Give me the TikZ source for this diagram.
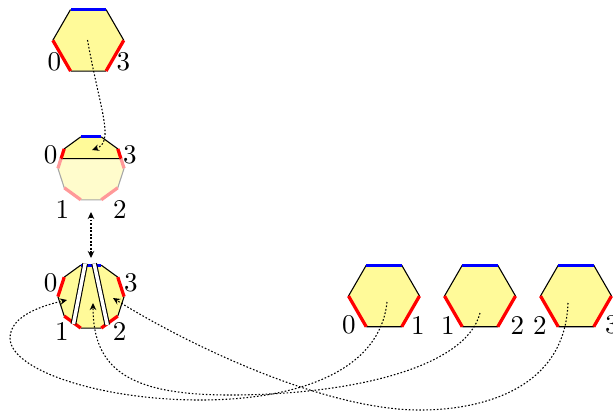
\documentclass[tikz,border=0pt]{standalone}
\usetikzlibrary{calc,arrows.meta}
\newcommand\hexcell[2]{%
  \begin{scope}[shift={(#1,#2)}]
    \fill[cellfill] (0:35.5)--(60:35.5)--(120:35.5)--(180:35.5)--(240:35.5)--(300:35.5)--cycle;
    \draw[edgeblk] (0:35.5)--(60:35.5) (120:35.5)--(180:35.5) (240:35.5)--(300:35.5);
    \draw[edgeblue] (60:35.5)--(120:35.5);
    \draw[edgered] (180:35.5)--(240:35.5) (300:35.5)--(0:35.5);
  \end{scope}}
\begin{document}
\begin{tikzpicture}[x=0.37pt,y=0.37pt,
  edgeblk/.style={line width=0.4pt,black},
  edgered/.style={line width=1.2pt,red},
  edgeblue/.style={line width=1.2pt,blue},
  fadered/.style={line width=1.2pt,red!40},
  fadeblk/.style={line width=0.4pt,black!35},
  cellfill/.style={fill=yellow!40},
  fadefill/.style={fill=yellow!20},
  lab/.style={inner sep=0pt},
  tipa/.tip={Stealth[length=2.6pt,width=2.4pt]},
  dotline/.style={dash pattern=on 0.6pt off 0.7pt,line width=0.4pt},
  dotarrow/.style={dotline,-tipa},
  chord/.style={draw=black,line width=0.4pt,double=white,double distance=1.3pt}]
\useasboundingbox (0,0) rectangle (613,-413);

% top hexagon and the three small hexagons
\hexcell{88.3}{-40.3}
\hexcell{384}{-296}
\hexcell{480}{-296}
\hexcell{576}{-296}

% middle decagon
\begin{scope}[shift={(91,-168.3)}]
  \foreach \k in {0,...,9} \coordinate (m\k) at ({72+36*\k}:33.1);
\end{scope}
\coordinate (mL) at ($(m2)!0.5!(m3)$);
\coordinate (mR) at ($(m8)!0.5!(m9)$);
\fill[fadefill] (mR)--(m8)--(m7)--(m6)--(m5)--(m4)--(m3)--(mL)--cycle;
\draw[fadeblk] (m8)--(m7) (m6)--(m5) (m4)--(m3);
\draw[fadered] (mR)--(m8) (m7)--(m6) (m5)--(m4) (m3)--(mL);
\fill[cellfill] (mL)--(m2)--(m1)--(m0)--(m9)--(mR)--cycle;
\draw[edgeblk] (m2)--(m1) (m0)--(m9) (mL)--(mR);
\draw[edgeblue] (m1)--(m0);
\draw[edgered] (mL)--(m2) (m9)--(mR);

% bottom decagon
\begin{scope}[shift={(91,-296.6)}]
  \foreach \k in {0,...,9} \coordinate (b\k) at ({72+36*\k}:33.1);
\end{scope}
\fill[cellfill] (b0)--(b1)--(b2)--(b3)--(b4)--(b5)--(b6)--(b7)--(b8)--(b9)--cycle;
\draw[edgeblk] (b1)--(b2) (b3)--(b4) (b5)--(b6) (b7)--(b8) (b9)--(b0);
\draw[edgeblue] (b1)--(b0);
\draw[edgered] (b2)--(b3) (b4)--(b5) (b6)--(b7) (b8)--(b9);
\coordinate (p1) at ($(b1)!0.2!(b0)$);
\coordinate (q1) at ($(b4)!0.57!(b5)$);
\coordinate (p2) at ($(b1)!0.67!(b0)$);
\coordinate (q2) at ($(b6)!0.35!(b7)$);
\draw[chord,shorten <=-0.6pt,shorten >=-0.4pt] (p1) -- (q1);
\draw[chord,shorten <=-0.6pt,shorten >=-0.4pt] (p2) -- (q2);

% labels
\node[lab] (t0) at (54.5,-62) {0};
\node[lab] (t3) at (123.5,-62) {3};
\node[lab] (m0l) at (50.7,-155) {0};
\node[lab] (m3l) at (130,-155) {3};
\node[lab] (m1l) at (62.5,-209.5) {1};
\node[lab] (m2l) at (120,-209.5) {2};
\node[lab] (b0l) at (50.7,-282.5) {0};
\node[lab] (b3l) at (131,-282.5) {3};
\node[lab] (b1l) at (62,-331.5) {1};
\node[lab] (b2l) at (119.7,-331.5) {2};
\node[lab] (a0) at (349,-325) {0};
\node[lab] (a1) at (418,-325) {1};
\node[lab] (c1) at (448,-325) {1};
\node[lab] (c2) at (517.5,-325) {2};
\node[lab] (d2) at (540,-325) {2};
\node[lab] (d3) at (612,-325) {3};

% connectors
\coordinate (sTop) at (87.5,-40);
\coordinate (tTop) at (92,-150);
\draw[dotarrow] (sTop) .. controls (100,-110) and (115,-142) .. (tTop);
\coordinate (dU) at (91,-212);
\coordinate (dD) at (91,-258);
\draw[dotline,tipa-tipa] (dU) -- (dD);

\coordinate (sA) at (387,-302);
\coordinate (tA) at (67,-300);
\draw[dotarrow] (sA) .. controls (380,-370) and (300,-400) .. (200,-400)
  .. controls (100,-400) and (10,-370) .. (10,-338)
  .. controls (10,-315) and (45,-305) .. (tA);
\coordinate (sB) at (480,-313);
\coordinate (tB) at (93,-303);
\draw[dotarrow] (sB) .. controls (466,-368) and (350,-395) .. (230,-395)
  .. controls (130,-395) and (93,-370) .. (tB);
\coordinate (sC) at (568,-303);
\coordinate (tC) at (113,-298);
\draw[dotarrow] (sC) .. controls (565,-390) and (480,-410) .. (420,-410)
  .. controls (320,-410) and (180,-340) .. (tC);
\end{tikzpicture}
\end{document}
